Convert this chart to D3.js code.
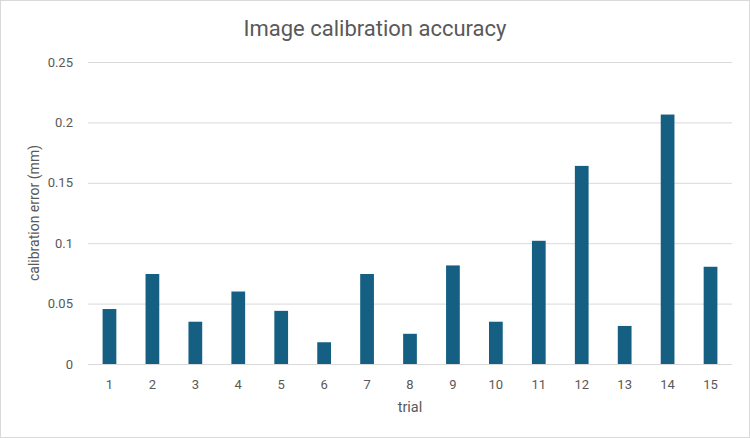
<!DOCTYPE html>
<html>
<head>
<meta charset="utf-8">
<script src="https://cdn.jsdelivr.net/npm/d3@7"></script>
<style>
  html, body { margin: 0; padding: 0; background: #fff; }
  svg { display: block; }
  text { font-family: "Roboto", "Liberation Sans", sans-serif; fill: #595959; }
</style>
</head>
<body>
<svg id="chart" width="750" height="438"></svg>
<script>
'use strict';

const trials = ['1', '2', '3', '4', '5', '6', '7', '8', '9', '10', '11', '12', '13', '14', '15'];
const errors = [0.0455, 0.0745, 0.035, 0.06, 0.044, 0.018, 0.0745, 0.025, 0.0816, 0.035, 0.102, 0.164, 0.0315, 0.2065, 0.0805];
const yTicks = [0, 0.05, 0.1, 0.15, 0.2, 0.25];

const svg = d3.select('#chart');
const width = +svg.attr('width');
const height = +svg.attr('height');

const margin = {top: 62, right: 18, bottom: 74, left: 88};

// chart border
svg.append('rect')
    .attr('x', 0.5).attr('y', 0.5)
    .attr('width', width - 1).attr('height', height - 1)
    .attr('fill', '#fff')
    .attr('stroke', '#d9d9d9');

const x = d3.scaleBand()
    .domain(trials)
    .range([margin.left, width - margin.right])
    .paddingInner(0.68)
    .paddingOuter(0.34);

const y = d3.scaleLinear()
    .domain([0, 0.25])
    .range([height - margin.bottom, margin.top]);

// gridlines
svg.append('g')
    .selectAll('line')
    .data(yTicks)
    .enter().append('line')
    .attr('x1', margin.left)
    .attr('x2', width - margin.right)
    .attr('y1', d => y(d) + 0.5)
    .attr('y2', d => y(d) + 0.5)
    .attr('stroke', '#d9d9d9')
    .attr('stroke-width', 1);

// y tick labels
svg.append('g')
    .selectAll('text')
    .data(yTicks)
    .enter().append('text')
    .attr('x', margin.left - 15)
    .attr('y', d => y(d))
    .attr('dy', '0.35em')
    .attr('text-anchor', 'end')
    .style('font-size', '13px')
    .text(d => d3.format('~g')(d));

// bars
svg.append('g')
    .selectAll('rect')
    .data(errors)
    .enter().append('rect')
    .attr('x', (d, i) => x(trials[i]))
    .attr('y', d => y(d))
    .attr('width', x.bandwidth())
    .attr('height', d => y(0) - y(d))
    .attr('fill', '#156082');

// x tick labels
svg.append('g')
    .selectAll('text')
    .data(trials)
    .enter().append('text')
    .attr('x', d => x(d) + x.bandwidth() / 2)
    .attr('y', y(0) + 20)
    .attr('dy', '0.35em')
    .attr('text-anchor', 'middle')
    .style('font-size', '13px')
    .text(d => d);

// axis titles
svg.append('text')
    .attr('x', (margin.left + width - margin.right) / 2)
    .attr('y', 407)
    .attr('dy', '0.35em')
    .attr('text-anchor', 'middle')
    .style('font-size', '14.5px')
    .text('trial');

svg.append('text')
    .attr('transform', `translate(34, ${(y(0) + y(0.25)) / 2}) rotate(-90)`)
    .attr('dy', '0.35em')
    .attr('text-anchor', 'middle')
    .style('font-size', '14px')
    .text('calibration error (mm)');

// title
svg.append('text')
    .attr('x', width / 2)
    .attr('y', 28)
    .attr('dy', '0.35em')
    .attr('text-anchor', 'middle')
    .style('font-size', '22px')
    .text('Image calibration accuracy');
</script>
</body>
</html>
